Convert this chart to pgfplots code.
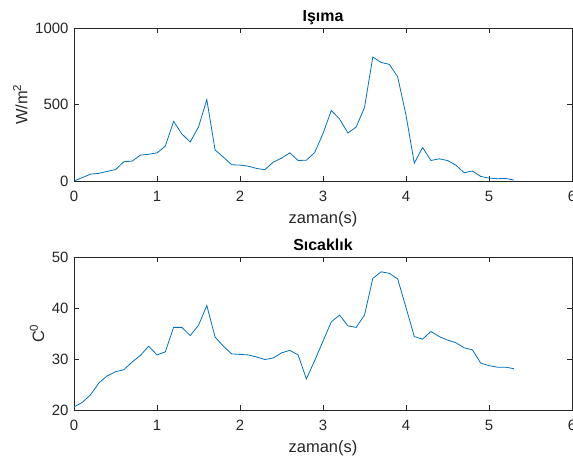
\documentclass[border=0pt]{standalone}
\usepackage{fontspec}
\setmainfont{Liberation Sans}
\usepackage{pgfplots}
\pgfplotsset{compat=1.18}

\definecolor{mblue}{RGB}{0,114,189}
\definecolor{mgray}{RGB}{38,38,38}

\pgfplotsset{
  mstyle/.style={
    width=498bp, height=153bp, scale only axis,
    xmin=0, xmax=6, xtick={0,1,...,6},
    axis line style={mgray, line width=0.6bp},
    tick style={mgray, line width=0.6bp},
    tick align=inside, major tick length=5bp,
    ticklabel style={font=\fontsize{15}{18}\selectfont, text=mgray},
    x tick label style={yshift=-6.5bp},
    y tick label style={xshift=-2bp},
    /pgf/number format/assume math mode=true,
    /pgf/number format/1000 sep={},
    label style={font=\fontsize{16.5}{20}\selectfont, text=mgray},
    xlabel={zaman(s)},
    xlabel style={at={(axis description cs:0.5,0)}, anchor=base, yshift=-42bp},
    title style={font=\bfseries\fontsize{16}{19}\selectfont, at={(axis description cs:0.5,1)}, anchor=base, yshift=1bp},
  },
}

\begin{document}
\begin{tikzpicture}
\path[use as bounding box] (-74bp,-278bp) rectangle (499bp,181bp);

\begin{axis}[mstyle,
  title={Işıma},
  ymin=0, ymax=1000, ytick={0,500,1000},
  ylabel={W/m\textsuperscript{2}},
  ylabel style={at={(axis description cs:-0.108,0.5)}, anchor=center},
]
\addplot[mblue, line width=0.8bp] coordinates {
(0,0) (0.1,22) (0.2,45) (0.3,50) (0.4,63) (0.5,74) (0.6,126) (0.7,130) (0.8,169) (0.9,175)
(1.0,184) (1.1,227) (1.2,390) (1.3,307) (1.4,255) (1.5,353) (1.6,532) (1.7,203) (1.8,156) (1.9,106)
(2.0,104) (2.1,97) (2.2,82) (2.3,74) (2.4,123) (2.5,149) (2.6,184) (2.7,134) (2.8,136) (2.9,186)
(3.0,310) (3.1,461) (3.2,405) (3.3,314) (3.4,353) (3.5,480) (3.6,810) (3.7,775) (3.8,762) (3.9,680)
(4.0,431) (4.1,117) (4.2,219) (4.3,134) (4.4,145) (4.5,134) (4.6,104) (4.7,54) (4.8,65) (4.9,30)
(5.0,19) (5.1,15) (5.2,17) (5.3,6)
};
\end{axis}

\begin{axis}[mstyle, at={(0,-229bp)},
  title={Sıcaklık},
  ymin=20, ymax=50, ytick={20,30,40,50},
  ylabel={C\textsuperscript{0}},
  ylabel style={at={(axis description cs:-0.074,0.5)}, anchor=center},
]
\addplot[mblue, line width=0.8bp] coordinates {
(0,20.6) (0.1,21.5) (0.2,23.0) (0.3,25.3) (0.4,26.7) (0.5,27.5) (0.6,27.9) (0.7,29.4) (0.8,30.7) (0.9,32.5)
(1.0,30.8) (1.1,31.4) (1.2,36.2) (1.3,36.2) (1.4,34.6) (1.5,36.6) (1.6,40.5) (1.7,34.3) (1.8,32.5) (1.9,31.0)
(2.0,30.9) (2.1,30.8) (2.2,30.4) (2.3,29.9) (2.4,30.2) (2.5,31.2) (2.6,31.7) (2.7,30.8) (2.8,26.1) (2.9,29.7)
(3.0,33.5) (3.1,37.3) (3.2,38.6) (3.3,36.5) (3.4,36.2) (3.5,38.6) (3.6,45.8) (3.7,47.1) (3.8,46.8) (3.9,45.7)
(4.0,40.1) (4.1,34.4) (4.2,33.9) (4.3,35.4) (4.4,34.4) (4.5,33.7) (4.6,33.2) (4.7,32.2) (4.8,31.8) (4.9,29.2)
(5.0,28.7) (5.1,28.4) (5.2,28.4) (5.3,28.1)
};
\end{axis}
\end{tikzpicture}
\end{document}
